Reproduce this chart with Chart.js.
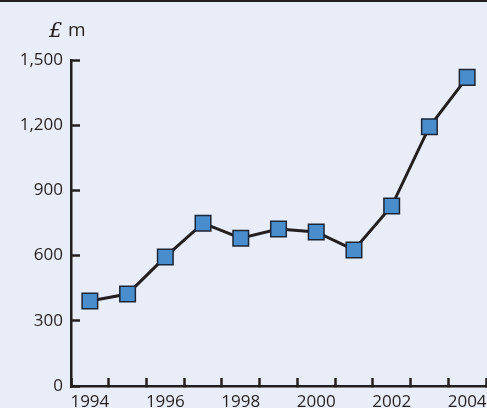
<!DOCTYPE html>
<html>
<head>
<meta charset="utf-8">
<script src="https://cdn.jsdelivr.net/npm/chart.js@4/dist/chart.umd.min.js"></script>
<style>
html,body{margin:0;padding:0;background:#e9edf8;}
canvas{display:block;}
</style>
</head>
<body>
<canvas id="c" width="487" height="408"></canvas>
<script>
const years = ['1994','1995','1996','1997','1998','1999','2000','2001','2002','2003','2004'];
const values = [391, 423, 594, 749, 680, 722, 709, 626, 828, 1193, 1420];
const yTicks = [0, 300, 600, 900, 1200, 1500];
const unitLabel = ['£', 'm'];

const ink = '#231f20';
Chart.defaults.font.family = "'Open Sans', sans-serif";
Chart.defaults.font.size = 17;
Chart.defaults.color = ink;

const bgPlugin = {
  id: 'bg',
  beforeDraw(chart) {
    const ctx = chart.ctx;
    ctx.save();
    ctx.fillStyle = '#e9edf8';
    ctx.fillRect(0, 0, chart.width, chart.height);
    ctx.fillStyle = ink;
    ctx.fillRect(0, 0, chart.width, 2);
    ctx.restore();
  },
  afterDraw(chart) {
    const ctx = chart.ctx;
    ctx.save();
    ctx.fillStyle = ink;
    ctx.textBaseline = 'alphabetic';
    ctx.font = "italic 21px 'DejaVu Serif', serif";
    ctx.fillText(unitLabel[0], 49, 37);
    ctx.font = "19px 'Open Sans', sans-serif";
    ctx.fillText(unitLabel[1], 68, 36);
    ctx.restore();
  }
};

new Chart(document.getElementById('c'), {
  type: 'line',
  data: {
    labels: years,
    datasets: [{
      data: values,
      borderColor: ink,
      borderWidth: 3,
      tension: 0,
      pointStyle: 'rect',
      pointRadius: 11,
      pointHoverRadius: 11,
      pointBackgroundColor: '#4a8dcd',
      pointBorderColor: '#1c2636',
      pointBorderWidth: 1.5,
      clip: false
    }]
  },
  options: {
    responsive: false,
    animation: false,
    events: [],
    layout: { autoPadding: false, padding: { top: 60, left: 0, right: 1, bottom: 0 } },
    plugins: { legend: { display: false }, tooltip: { enabled: false } },
    scales: {
      x: {
        type: 'category',
        offset: true,
        afterFit(s) { s.height = 22; s.paddingLeft = 0; s.paddingRight = 0; },
        border: { color: ink, width: 2.5 },
        grid: {
          offset: true,
          drawOnChartArea: false,
          drawTicks: true,
          tickLength: -8,
          tickWidth: 2.5,
          tickColor: ink
        },
        ticks: {
          autoSkip: false,
          maxRotation: 0,
          padding: 14,
          color: ink,
          callback: (v, i) => (i % 2 === 0 ? years[i] : '')
        }
      },
      y: {
        min: 0,
        max: 1500,
        afterFit(s) { s.width = 71; s.paddingTop = 0; s.paddingBottom = 0; },
        afterBuildTicks(s) { s.ticks = yTicks.map(v => ({ value: v })); },
        border: { color: ink, width: 2.5 },
        grid: {
          drawOnChartArea: false,
          drawTicks: true,
          tickLength: -9,
          tickWidth: 2.5,
          tickColor: ink
        },
        ticks: {
          padding: 17,
          color: ink,
          callback: v => v.toLocaleString('en-US')
        }
      }
    }
  },
  plugins: [bgPlugin]
});
</script>
</body>
</html>
